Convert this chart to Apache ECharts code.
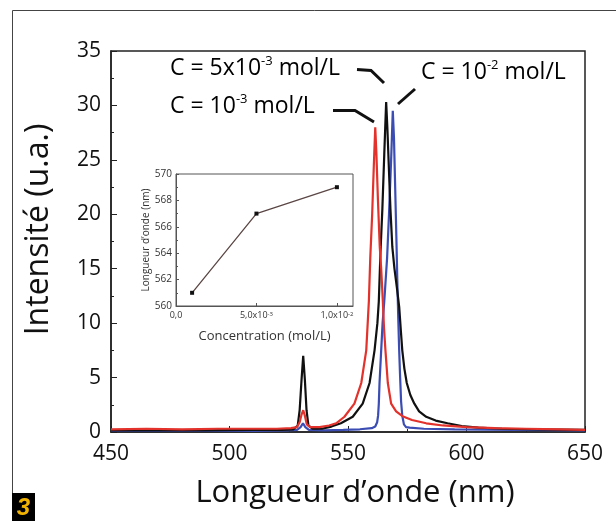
<!DOCTYPE html>
<html>
<head>
<meta charset="utf-8">
<script src="https://cdn.jsdelivr.net/npm/echarts@6/dist/echarts.min.js"></script>
<style>
  html, body { margin: 0; padding: 0; background: #fff; }
  #chart { width: 616px; height: 521px; }
</style>
</head>
<body>
<div id="chart"></div>
<script>
// spectres : [longueur d'onde (nm), intensité (u.a.)]
var spectrumC1e3 = [
  [450, 0.25], [465, 0.3], [480, 0.25], [495, 0.3], [510, 0.3], [520, 0.3], [526, 0.35],
  [528.5, 0.45], [529.6, 0.9], [530.4, 1.6], [531.1, 2.0], [531.8, 1.5], [532.6, 0.7],
  [534, 0.45], [538, 0.45], [542, 0.6], [545, 0.8], [548.5, 1.4], [552.7, 2.6], [555.6, 4.5],
  [557.7, 7.5], [558.8, 12], [559.4, 16], [560.2, 20], [560.9, 24.5], [561.5, 28.0],
  [562, 25.5], [562.6, 21.5], [563.4, 17], [564, 15], [564.7, 12], [565.2, 9.5], [565.8, 7.5],
  [566.8, 4.5], [568.2, 2.6], [570.3, 1.9], [573, 1.45], [577, 1.1], [583, 0.8], [590, 0.6],
  [600, 0.45], [612, 0.35], [625, 0.3], [640, 0.25], [650, 0.2]
];
var spectrumC5e3 = [
  [450, 0.15], [470, 0.15], [490, 0.15], [510, 0.2], [522, 0.2], [527, 0.25], [528.8, 0.6],
  [529.6, 2.0], [530.4, 4.8], [531.1, 7.0], [531.8, 4.8], [532.5, 2.0], [533.3, 0.6], [535, 0.3],
  [539, 0.3], [543, 0.5], [547, 0.8], [552, 1.4], [556.2, 2.6], [559.1, 4.5], [561.2, 7.5],
  [562.4, 10], [563, 12], [563.7, 16.5], [564.5, 20.5], [565.3, 25.5], [566.1, 30.3],
  [566.6, 28], [567.2, 24.5], [567.9, 20.5], [568.7, 17], [569.6, 15], [570.6, 13.3],
  [571.6, 11.5], [572.3, 9.3], [572.9, 7.5], [573.8, 5.8], [574.8, 4.5], [576.3, 3.4],
  [578, 2.6], [580, 1.9], [583, 1.4], [587, 1.05], [592, 0.8], [598, 0.55], [605, 0.4],
  [615, 0.3], [630, 0.25], [650, 0.2]
];
var spectrumC1e2 = [
  [450, 0.1], [480, 0.1], [510, 0.1], [524, 0.15], [528.5, 0.2], [530, 0.45], [531, 0.8],
  [532, 0.45], [533.5, 0.2], [540, 0.15], [548, 0.2], [555, 0.25], [560, 0.35], [561.5, 0.5],
  [562.3, 0.9], [562.7, 1.5], [563, 2.6], [563.3, 4.5], [564, 7.5], [564.6, 10], [565.3, 12],
  [565.9, 14], [566.5, 16], [567.3, 20], [568.2, 25], [568.9, 29.5], [569.4, 27], [569.9, 22.5],
  [570.4, 18], [570.8, 14], [571.2, 10.5], [571.6, 7.5], [572, 5], [572.4, 2.8], [572.9, 1.5],
  [573.6, 0.7], [574.5, 0.45], [576, 0.4], [582, 0.3], [595, 0.25], [620, 0.2], [650, 0.15]
];

// encart : position du pic en fonction de la concentration
var concentrations = [0.001, 0.005, 0.01];
var peakWavelengths = [561, 567, 569];

var font = '"Open Sans", "Noto Sans", sans-serif';
var chart = echarts.init(document.getElementById('chart'));

function insetLabel(v) {
  if (v === 0) return '{n|0,0}';
  if (Math.abs(v - 0.005) < 1e-9) return '{n|5,0x10}{s|-3}';
  if (Math.abs(v - 0.01) < 1e-9) return '{n|1,0x10}{s|-2}';
  return '';
}

var labelRich = {
  n: { fontFamily: font, fontSize: 23, color: '#111', lineHeight: 26 },
  s: { fontFamily: font, fontSize: 13, color: '#111', verticalAlign: 'top', lineHeight: 26, padding: [0, 0, 9, 0] }
};

var option = {
  animation: false,
  backgroundColor: '#fff',
  textStyle: { fontFamily: font },
  grid: [
    { left: 111, top: 51, width: 474, height: 381, show: true, borderColor: '#222', borderWidth: 1.5 },
    { left: 176, top: 174, width: 177, height: 132, show: true, borderColor: '#555', borderWidth: 1, backgroundColor: '#fff' }
  ],
  xAxis: [
    {
      gridIndex: 0, type: 'value', min: 450, max: 650, interval: 50,
      axisLine: { lineStyle: { color: '#222', width: 1.5 } },
      axisTick: { inside: true, length: 6, lineStyle: { color: '#222' } },
      minorTick: { show: true, splitNumber: 2, length: 3, lineStyle: { color: '#222' } },
      splitLine: { show: false },
      axisLabel: { fontSize: 21, color: '#111', margin: 12 },
      name: 'Longueur d’onde (nm)', nameLocation: 'middle', nameGap: 46,
      nameTextStyle: { fontSize: 31, color: '#111', padding: [0, 0, 0, 14] }
    },
    {
      gridIndex: 1, type: 'value', min: 0, max: 0.011, interval: 0.005,
      axisLine: { lineStyle: { color: '#555' } },
      axisTick: { inside: true, length: 3, lineStyle: { color: '#555' } },
      splitLine: { show: false },
      axisLabel: {
        margin: 5, showMaxLabel: false, formatter: insetLabel,
        rich: {
          n: { fontSize: 9, color: '#333', fontFamily: font },
          s: { fontSize: 6, color: '#333', fontFamily: font, verticalAlign: 'top' }
        }
      },
      name: 'Concentration (mol/L)', nameLocation: 'middle', nameGap: 24,
      nameTextStyle: { fontSize: 13, color: '#333' }
    }
  ],
  yAxis: [
    {
      gridIndex: 0, type: 'value', min: 0, max: 35, interval: 5,
      axisLine: { lineStyle: { color: '#222', width: 1.5 } },
      axisTick: { inside: true, length: 6, lineStyle: { color: '#222' } },
      minorTick: { show: true, splitNumber: 2, length: 3, lineStyle: { color: '#222' } },
      splitLine: { show: false },
      axisLabel: { fontSize: 21, color: '#111', margin: 10 },
      name: 'Intensité (u.a.)', nameLocation: 'middle', nameGap: 56,
      nameTextStyle: { fontSize: 32, color: '#111', padding: [0, 0, 0, 24] }
    },
    {
      gridIndex: 1, type: 'value', min: 560, max: 570, interval: 2,
      axisLine: { lineStyle: { color: '#555' } },
      axisTick: { inside: true, length: 3, lineStyle: { color: '#555' } },
      minorTick: { show: true, splitNumber: 2, length: 2, lineStyle: { color: '#555' } },
      splitLine: { show: false },
      axisLabel: { fontSize: 10, color: '#333', margin: 4 },
      name: 'Longueur d’onde (nm)', nameLocation: 'middle', nameGap: 24,
      nameTextStyle: { fontSize: 10, color: '#333' }
    }
  ],
  series: [
    {
      name: 'C = 1e-2', type: 'line', xAxisIndex: 0, yAxisIndex: 0, data: spectrumC1e2,
      showSymbol: false, symbol: 'none', lineStyle: { color: '#3b4db3', width: 2.2 }
    },
    {
      name: 'C = 5e-3', type: 'line', xAxisIndex: 0, yAxisIndex: 0, data: spectrumC5e3,
      showSymbol: false, symbol: 'none', lineStyle: { color: '#111', width: 2.2 }
    },
    {
      name: 'C = 1e-3', type: 'line', xAxisIndex: 0, yAxisIndex: 0, data: spectrumC1e3,
      showSymbol: false, symbol: 'none', lineStyle: { color: '#e2322b', width: 2.2 }
    },
    {
      name: 'pic', type: 'line', xAxisIndex: 1, yAxisIndex: 1,
      data: concentrations.map(function (c, i) { return [c, peakWavelengths[i]]; }),
      symbol: 'rect', symbolSize: 4, itemStyle: { color: '#111' },
      lineStyle: { color: '#5a4644', width: 1.3 }
    }
  ],
  graphic: [
    // cadre de la figure
    { type: 'polyline', shape: { points: [[12.5, 493], [12.5, 10.5], [616, 10.5]] },
      style: { stroke: '#444', lineWidth: 1, fill: null } },
    { type: 'rect', shape: { x: 12, y: 493, width: 23, height: 28 }, style: { fill: '#000' } },
    { type: 'text', x: 23.5, y: 508,
      style: { text: '3', fill: '#f2b300', font: 'italic bold 24px "Liberation Sans Narrow", "Liberation Sans", sans-serif', align: 'center', verticalAlign: 'middle' } },
    // étiquettes des courbes
    { type: 'text', x: 170, y: 68, style: { text: '{n|C = 5x10}{s|-3}{n| mol/L}', rich: labelRich, verticalAlign: 'middle' } },
    { type: 'text', x: 170, y: 106, style: { text: '{n|C = 10}{s|-3}{n| mol/L}', rich: labelRich, verticalAlign: 'middle' } },
    { type: 'text', x: 421, y: 72, style: { text: '{n|C = 10}{s|-2}{n| mol/L}', rich: labelRich, verticalAlign: 'middle' } },
    { type: 'polyline', shape: { points: [[357, 69.5], [371, 70.5], [384, 83]] },
      style: { stroke: '#111', lineWidth: 3, fill: null } },
    { type: 'polyline', shape: { points: [[333, 110.5], [355, 110.5], [374, 122]] },
      style: { stroke: '#111', lineWidth: 3, fill: null } },
    { type: 'polyline', shape: { points: [[415, 89], [398, 104]] },
      style: { stroke: '#111', lineWidth: 3, fill: null } }
  ]
};

chart.setOption(option);
</script>
</body>
</html>
